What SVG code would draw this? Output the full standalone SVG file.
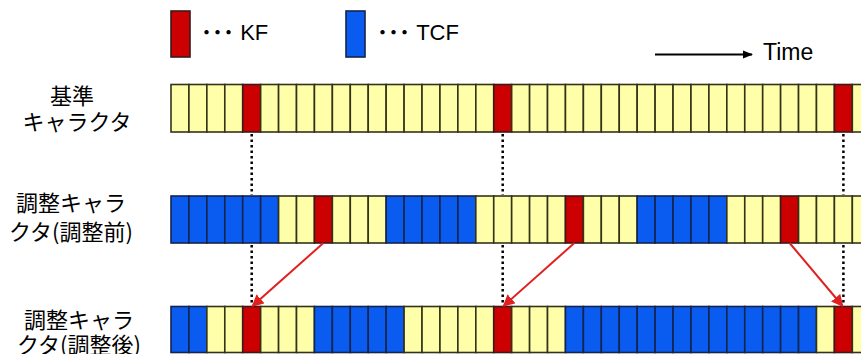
<svg xmlns="http://www.w3.org/2000/svg" width="861" height="354" viewBox="0 0 861 354">
<style>
.y{fill:#FFFFAA;stroke:#33331a;stroke-width:1.6}
.r{fill:#CC0000;stroke:#3a1a1a;stroke-width:1.6}
.b{fill:#0A5CF0;stroke:#14244d;stroke-width:1.6}
.lbl{font-family:"Noto Sans CJK JP","Liberation Sans",sans-serif;font-size:22px;fill:#000;text-anchor:middle}
.leg{font-family:"Liberation Sans","Noto Sans CJK JP",sans-serif;font-size:22px;fill:#000}
.dot{stroke:#000;stroke-width:2.5;stroke-dasharray:2.5 3;fill:none}
.arr{stroke:#E02020;stroke-width:2;fill:none;marker-end:url(#ah)}
</style>
<defs>
<marker id="ah" viewBox="0 0 10 10" refX="9" refY="5" markerWidth="6" markerHeight="6" orient="auto" markerUnits="strokeWidth">
<path d="M0,0 L10,5 L0,10 z" fill="#E02020"/>
</marker>
<marker id="tah" viewBox="0 0 10 10" refX="9" refY="5" markerWidth="5" markerHeight="5" orient="auto" markerUnits="strokeWidth">
<path d="M0,1 L10,5 L0,9 z" fill="#000"/>
</marker>
</defs>
<rect width="861" height="354" fill="#fff"/>
<g id="legend">
<rect x="171" y="11" width="19" height="46" class="r"/>
<text x="201" y="40" class="leg"><tspan style="font-weight:bold">･･･</tspan> KF</text>
<rect x="346" y="11" width="19" height="46" class="b"/>
<text x="377" y="40" class="leg"><tspan style="font-weight:bold">･･･</tspan> TCF</text>
</g>
<g id="time">
<line x1="655" y1="54.5" x2="752" y2="54.5" stroke="#000" stroke-width="2" marker-end="url(#tah)"/>
<text x="763" y="60" class="leg" style="font-size:23px">Time</text>
</g>
<g id="labels">
<text x="72" y="104" class="lbl">基準</text>
<text x="77" y="130" class="lbl">キャラクタ</text>
<text x="71" y="211" class="lbl">調整キャラ</text>
<text x="71" y="240" class="lbl">クタ(調整前)</text>
<text x="79" y="328" class="lbl">調整キャラ</text>
<text x="79" y="353" class="lbl">クタ(調整後)</text>
</g>
<g id="row1">
<rect x="171" y="84.5" width="17.93" height="47.5" class="y"/>
<rect x="188.93" y="84.5" width="17.93" height="47.5" class="y"/>
<rect x="206.86" y="84.5" width="17.93" height="47.5" class="y"/>
<rect x="224.79" y="84.5" width="17.93" height="47.5" class="y"/>
<rect x="242.72" y="84.5" width="17.93" height="47.5" class="r"/>
<rect x="260.65" y="84.5" width="17.93" height="47.5" class="y"/>
<rect x="278.58" y="84.5" width="17.93" height="47.5" class="y"/>
<rect x="296.51" y="84.5" width="17.93" height="47.5" class="y"/>
<rect x="314.44" y="84.5" width="17.93" height="47.5" class="y"/>
<rect x="332.37" y="84.5" width="17.93" height="47.5" class="y"/>
<rect x="350.3" y="84.5" width="17.93" height="47.5" class="y"/>
<rect x="368.23" y="84.5" width="17.93" height="47.5" class="y"/>
<rect x="386.16" y="84.5" width="17.93" height="47.5" class="y"/>
<rect x="404.09" y="84.5" width="17.93" height="47.5" class="y"/>
<rect x="422.02" y="84.5" width="17.93" height="47.5" class="y"/>
<rect x="439.95" y="84.5" width="17.93" height="47.5" class="y"/>
<rect x="457.88" y="84.5" width="17.93" height="47.5" class="y"/>
<rect x="475.81" y="84.5" width="17.93" height="47.5" class="y"/>
<rect x="493.74" y="84.5" width="17.93" height="47.5" class="r"/>
<rect x="511.67" y="84.5" width="17.93" height="47.5" class="y"/>
<rect x="529.6" y="84.5" width="17.93" height="47.5" class="y"/>
<rect x="547.53" y="84.5" width="17.93" height="47.5" class="y"/>
<rect x="565.46" y="84.5" width="17.93" height="47.5" class="y"/>
<rect x="583.39" y="84.5" width="17.93" height="47.5" class="y"/>
<rect x="601.32" y="84.5" width="17.93" height="47.5" class="y"/>
<rect x="619.25" y="84.5" width="17.93" height="47.5" class="y"/>
<rect x="637.18" y="84.5" width="17.93" height="47.5" class="y"/>
<rect x="655.11" y="84.5" width="17.93" height="47.5" class="y"/>
<rect x="673.04" y="84.5" width="17.93" height="47.5" class="y"/>
<rect x="690.97" y="84.5" width="17.93" height="47.5" class="y"/>
<rect x="708.9" y="84.5" width="17.93" height="47.5" class="y"/>
<rect x="726.83" y="84.5" width="17.93" height="47.5" class="y"/>
<rect x="744.76" y="84.5" width="17.93" height="47.5" class="y"/>
<rect x="762.69" y="84.5" width="17.93" height="47.5" class="y"/>
<rect x="780.62" y="84.5" width="17.93" height="47.5" class="y"/>
<rect x="798.55" y="84.5" width="17.93" height="47.5" class="y"/>
<rect x="816.48" y="84.5" width="17.93" height="47.5" class="y"/>
<rect x="834.41" y="84.5" width="17.93" height="47.5" class="r"/>
<rect x="852.34" y="84.5" width="17.93" height="47.5" class="y"/>
</g>
<g id="row2">
<rect x="171" y="196" width="17.93" height="47" class="b"/>
<rect x="188.93" y="196" width="17.93" height="47" class="b"/>
<rect x="206.86" y="196" width="17.93" height="47" class="b"/>
<rect x="224.79" y="196" width="17.93" height="47" class="b"/>
<rect x="242.72" y="196" width="17.93" height="47" class="b"/>
<rect x="260.65" y="196" width="17.93" height="47" class="b"/>
<rect x="278.58" y="196" width="17.93" height="47" class="y"/>
<rect x="296.51" y="196" width="17.93" height="47" class="y"/>
<rect x="314.44" y="196" width="17.93" height="47" class="r"/>
<rect x="332.37" y="196" width="17.93" height="47" class="y"/>
<rect x="350.3" y="196" width="17.93" height="47" class="y"/>
<rect x="368.23" y="196" width="17.93" height="47" class="y"/>
<rect x="386.16" y="196" width="17.93" height="47" class="b"/>
<rect x="404.09" y="196" width="17.93" height="47" class="b"/>
<rect x="422.02" y="196" width="17.93" height="47" class="b"/>
<rect x="439.95" y="196" width="17.93" height="47" class="b"/>
<rect x="457.88" y="196" width="17.93" height="47" class="b"/>
<rect x="475.81" y="196" width="17.93" height="47" class="y"/>
<rect x="493.74" y="196" width="17.93" height="47" class="y"/>
<rect x="511.67" y="196" width="17.93" height="47" class="y"/>
<rect x="529.6" y="196" width="17.93" height="47" class="y"/>
<rect x="547.53" y="196" width="17.93" height="47" class="y"/>
<rect x="565.46" y="196" width="17.93" height="47" class="r"/>
<rect x="583.39" y="196" width="17.93" height="47" class="y"/>
<rect x="601.32" y="196" width="17.93" height="47" class="y"/>
<rect x="619.25" y="196" width="17.93" height="47" class="y"/>
<rect x="637.18" y="196" width="17.93" height="47" class="b"/>
<rect x="655.11" y="196" width="17.93" height="47" class="b"/>
<rect x="673.04" y="196" width="17.93" height="47" class="b"/>
<rect x="690.97" y="196" width="17.93" height="47" class="b"/>
<rect x="708.9" y="196" width="17.93" height="47" class="b"/>
<rect x="726.83" y="196" width="17.93" height="47" class="y"/>
<rect x="744.76" y="196" width="17.93" height="47" class="y"/>
<rect x="762.69" y="196" width="17.93" height="47" class="y"/>
<rect x="780.62" y="196" width="17.93" height="47" class="r"/>
<rect x="798.55" y="196" width="17.93" height="47" class="y"/>
<rect x="816.48" y="196" width="17.93" height="47" class="y"/>
<rect x="834.41" y="196" width="17.93" height="47" class="y"/>
<rect x="852.34" y="196" width="17.93" height="47" class="y"/>
</g>
<g id="row3">
<rect x="171" y="306.5" width="17.93" height="46" class="b"/>
<rect x="188.93" y="306.5" width="17.93" height="46" class="b"/>
<rect x="206.86" y="306.5" width="17.93" height="46" class="y"/>
<rect x="224.79" y="306.5" width="17.93" height="46" class="y"/>
<rect x="242.72" y="306.5" width="17.93" height="46" class="r"/>
<rect x="260.65" y="306.5" width="17.93" height="46" class="y"/>
<rect x="278.58" y="306.5" width="17.93" height="46" class="y"/>
<rect x="296.51" y="306.5" width="17.93" height="46" class="y"/>
<rect x="314.44" y="306.5" width="17.93" height="46" class="b"/>
<rect x="332.37" y="306.5" width="17.93" height="46" class="b"/>
<rect x="350.3" y="306.5" width="17.93" height="46" class="b"/>
<rect x="368.23" y="306.5" width="17.93" height="46" class="b"/>
<rect x="386.16" y="306.5" width="17.93" height="46" class="b"/>
<rect x="404.09" y="306.5" width="17.93" height="46" class="y"/>
<rect x="422.02" y="306.5" width="17.93" height="46" class="y"/>
<rect x="439.95" y="306.5" width="17.93" height="46" class="y"/>
<rect x="457.88" y="306.5" width="17.93" height="46" class="y"/>
<rect x="475.81" y="306.5" width="17.93" height="46" class="y"/>
<rect x="493.74" y="306.5" width="17.93" height="46" class="r"/>
<rect x="511.67" y="306.5" width="17.93" height="46" class="y"/>
<rect x="529.6" y="306.5" width="17.93" height="46" class="y"/>
<rect x="547.53" y="306.5" width="17.93" height="46" class="y"/>
<rect x="565.46" y="306.5" width="17.93" height="46" class="b"/>
<rect x="583.39" y="306.5" width="17.93" height="46" class="b"/>
<rect x="601.32" y="306.5" width="17.93" height="46" class="b"/>
<rect x="619.25" y="306.5" width="17.93" height="46" class="b"/>
<rect x="637.18" y="306.5" width="17.93" height="46" class="b"/>
<rect x="655.11" y="306.5" width="17.93" height="46" class="b"/>
<rect x="673.04" y="306.5" width="17.93" height="46" class="b"/>
<rect x="690.97" y="306.5" width="17.93" height="46" class="b"/>
<rect x="708.9" y="306.5" width="17.93" height="46" class="b"/>
<rect x="726.83" y="306.5" width="17.93" height="46" class="b"/>
<rect x="744.76" y="306.5" width="17.93" height="46" class="b"/>
<rect x="762.69" y="306.5" width="17.93" height="46" class="b"/>
<rect x="780.62" y="306.5" width="17.93" height="46" class="b"/>
<rect x="798.55" y="306.5" width="17.93" height="46" class="b"/>
<rect x="816.48" y="306.5" width="17.93" height="46" class="y"/>
<rect x="834.41" y="306.5" width="17.93" height="46" class="r"/>
<rect x="852.34" y="306.5" width="17.93" height="46" class="y"/>
</g>
<g id="connectors">
<line x1="251.7" y1="134" x2="251.7" y2="195" class="dot"/>
<line x1="502.7" y1="134" x2="502.7" y2="195" class="dot"/>
<line x1="843.4" y1="134" x2="843.4" y2="195" class="dot"/>
<line x1="251.7" y1="245" x2="251.7" y2="305" class="dot"/>
<line x1="502.7" y1="245" x2="502.7" y2="305" class="dot"/>
<line x1="843.4" y1="245" x2="843.4" y2="305" class="dot"/>
<line x1="323.4" y1="243" x2="252.5" y2="306" class="arr"/>
<line x1="574.4" y1="243" x2="503.5" y2="306" class="arr"/>
<line x1="789.6" y1="243" x2="842.6" y2="306" class="arr"/>
</g>
</svg>
